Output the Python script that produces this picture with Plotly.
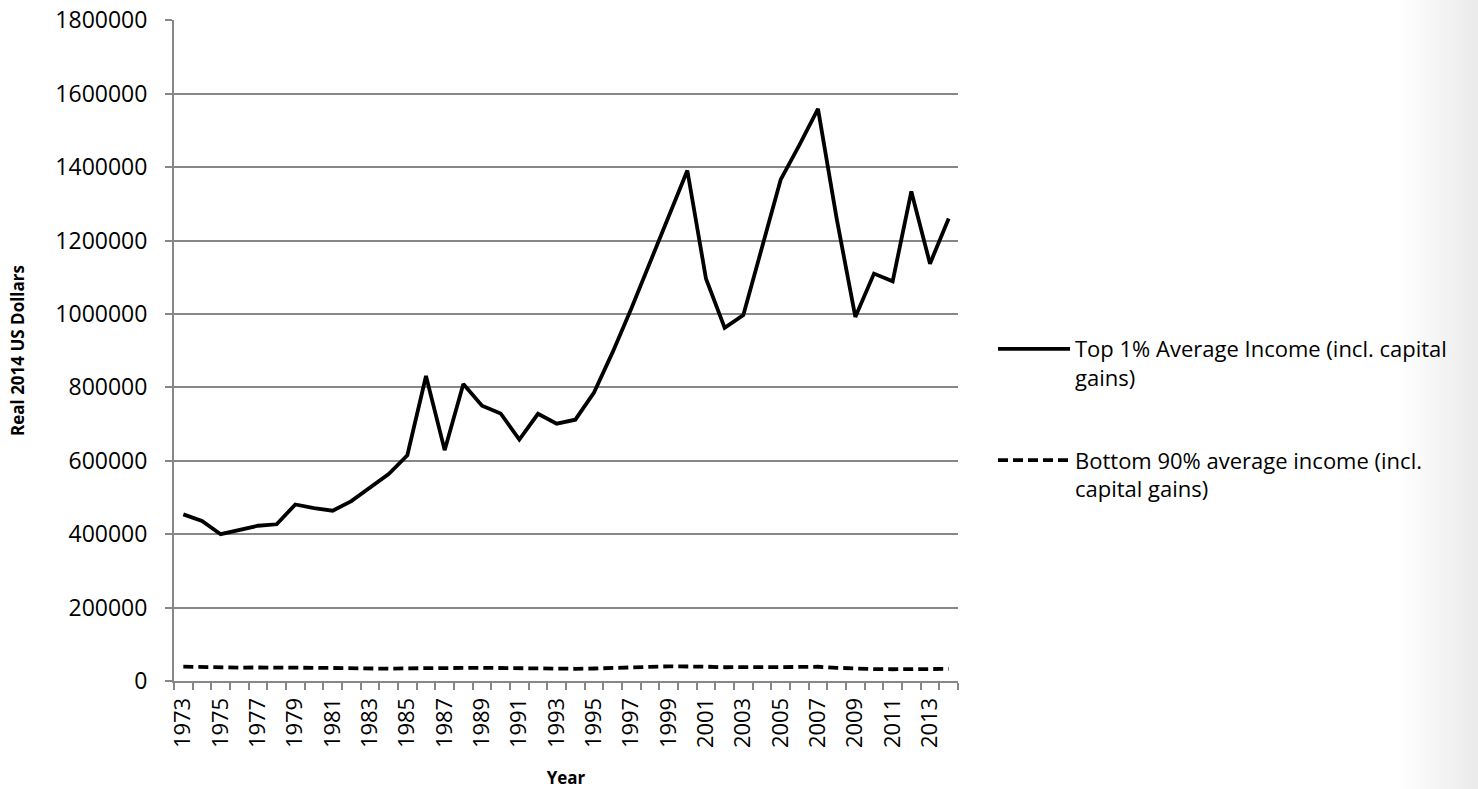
import plotly.graph_objects as go

years = list(range(1973, 2015))
top1 = [454000, 436000, 400000, 411000, 423000, 427000, 481000, 471000, 464000, 490000,
        526000, 564000, 615000, 831000, 629000, 809000, 750000, 729000, 658000, 728000,
        701000, 712000, 786000, 896000, 1015000, 1142000, 1266000, 1391000, 1096000, 962000,
        997000, 1182000, 1366000, 1460000, 1559000, 1260000, 992000, 1110000, 1089000, 1334000,
        1137000, 1260000]
bottom90 = [39000, 37500, 36000, 36500, 36800, 37200, 37000, 36000, 35500, 34000,
            32500, 33500, 34500, 35500, 35200, 35600, 35800, 35000, 33800, 33500,
            33000, 33300, 34000, 34800, 36500, 38500, 40000, 40500, 39000, 37500,
            37000, 37300, 37800, 38300, 38800, 36000, 33000, 32500, 32000, 32800,
            32300, 33000]
name_top = "Top 1% Average Income (incl. capital<br>gains)"
name_bot = "Bottom 90% average income (incl.<br>capital gains)"
y_ticks = [0, 200000, 400000, 600000, 800000, 1000000, 1200000, 1400000, 1600000, 1800000]
x_labels = list(range(1973, 2015, 2))

FONT = "Open Sans"
GRID = "#878787"

W, H = 1478, 789
L, T, R, B = 174, 20, 520, 108
PW, PH = W - L - R, H - T - B

fig = go.Figure()
fig.add_trace(go.Scatter(x=years, y=top1, mode="lines", name=name_top,
                         line=dict(color="black", width=3.8), legendgroup="a"))
fig.add_trace(go.Scatter(x=years, y=bottom90, mode="lines", name=name_bot,
                         line=dict(color="black", width=3.8, dash="10px,5px"), legendgroup="b"))

# subtle gradient at right edge
shapes = []
n = 30
for i in range(n):
    x0 = 1400 + i * (78 / n)
    x1 = x0 + 78 / n + 0.5
    g = int(255 - (i + 1) * 20 / n)
    shapes.append(dict(type="rect", xref="paper", yref="paper",
                       x0=(x0 - L) / PW, x1=(x1 - L) / PW,
                       y0=-B / PH - 0.01, y1=(PH + T) / PH + 0.01,
                       fillcolor=f"rgb({g},{g},{g})", line=dict(width=0), layer="below"))

fig.update_layout(
    width=W, height=H,
    margin=dict(l=L, r=R, t=T, b=B, autoexpand=False),
    paper_bgcolor="white", plot_bgcolor="white",
    font=dict(family=FONT, size=22, color="black"),
    shapes=shapes,
    showlegend=True,
    legend=dict(x=(993 - L) / PW, xanchor="left", y=0.534, yanchor="top",
                font=dict(family=FONT, size=22, color="black"),
                tracegroupgap=51, valign="top", bgcolor="rgba(0,0,0,0)",
                itemwidth=72),
    xaxis=dict(
        range=[1972.5, 2014.5], automargin=False,
        tickmode="array", tickvals=x_labels, ticktext=[str(v) for v in x_labels],
        tickangle=-90, ticks="", showgrid=False, zeroline=False,
        showline=True, linecolor=GRID, linewidth=2,
        tickfont=dict(family=FONT, size=22, color="black"),
        ticklabelstandoff=6,
        minor=dict(tickvals=[y + 0.5 for y in range(1972, 2015)], ticks="outside",
                   ticklen=7, tickcolor=GRID, tickwidth=1.5, showgrid=False),
        title=dict(text="<b>Year</b>", font=dict(family=FONT, size=17), standoff=29),
    ),
    yaxis=dict(
        range=[0, 1801000], automargin=False,
        tickmode="array", tickvals=y_ticks, ticktext=[str(v) for v in y_ticks],
        ticks="outside", ticklen=7, tickcolor=GRID, tickwidth=1.5,
        ticklabelstandoff=13, ticklabeloverflow="allow",
        showgrid=True, gridcolor=GRID, gridwidth=1.5, zeroline=False,
        showline=True, linecolor=GRID, linewidth=2,
        tickfont=dict(family=FONT, size=23, color="black"),
        title=dict(text="<b>Real 2014 US Dollars</b>", font=dict(family=FONT, size=17), standoff=26),
    ),
)

fig.write_html("out.html", config={"displayModeBar": False},
               post_script="document.body.style.margin='0';document.body.style.overflow='hidden';")
